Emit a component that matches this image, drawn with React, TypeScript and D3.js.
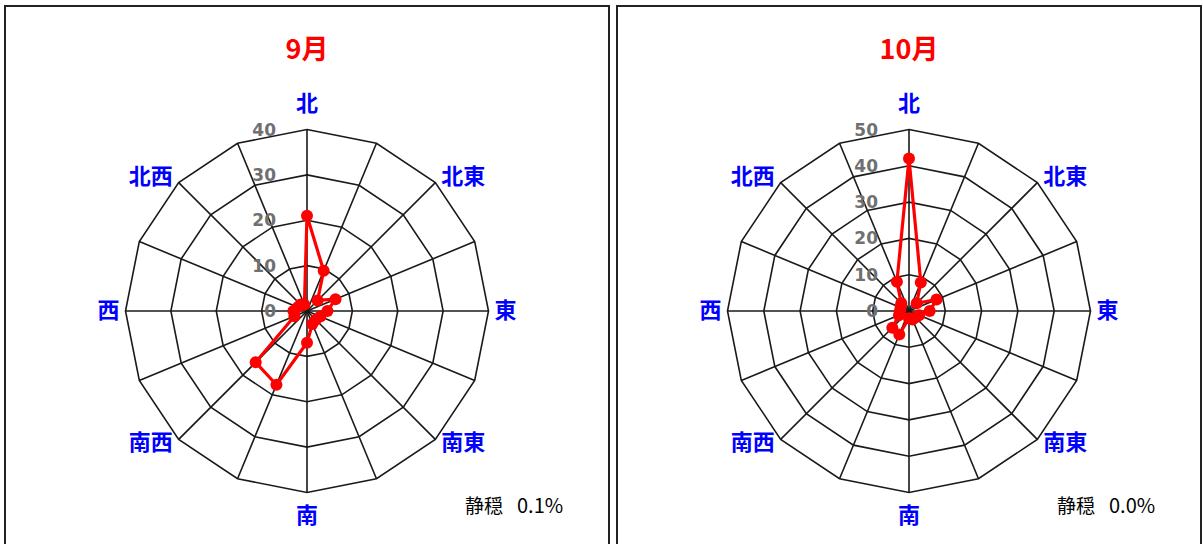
import React from "react";
import * as d3 from "d3";

const directions = ["北", "北北東", "北東", "東北東", "東", "東南東", "南東", "南南東", "南", "南南西", "南西", "西南西", "西", "西北西", "北西", "北北西"];
const shownLabels = ["北", "北東", "東", "南東", "南", "南西", "西", "北西"];

const sepValues = [21, 9.6, 3.3, 6.8, 4.5, 3.2, 2.7, 3.1, 7, 17.6, 16, 3, 3, 2.2, 2, 1.5];
const octValues = [42, 8.5, 3, 8.2, 5.7, 3, 2.5, 2.5, 2, 7, 6.5, 3, 2.5, 2.5, 3, 8.7];

const sepTicks = [0, 10, 20, 30, 40];
const octTicks = [0, 10, 20, 30, 40, 50];

const panels = [
  { title: "9月", values: sepValues, ticks: sepTicks, calm: "0.1%", x0: 5, x1: 609 },
  { title: "10月", values: octValues, ticks: octTicks, calm: "0.0%", x0: 617, x1: 1201 },
];

const W = 1203;
const H = 544;
const CY = 311;
const R = 181.5;
const CJK = "'Noto Sans CJK JP', 'Noto Sans', sans-serif";

function Panel({ p }: { p: typeof panels[number] }) {
  const cx = (p.x0 + p.x1) / 2;
  const max = p.ticks[p.ticks.length - 1];
  const r = d3.scaleLinear().domain([0, max]).range([0, R]);
  const angle = d3.scaleLinear().domain([0, directions.length]).range([0, 2 * Math.PI]);
  const ring = (v: number) =>
    d3.lineRadial<string>().angle((_, i) => angle(i)).radius(() => r(v)).curve(d3.curveLinearClosed)(directions) || "";
  const dataLine = d3
    .lineRadial<number>()
    .angle((_, i) => angle(i))
    .radius((d) => r(d))
    .curve(d3.curveLinearClosed)(p.values) || "";
  const pt = (i: number, v: number) => {
    const a = angle(i);
    return [Math.sin(a) * r(v), -Math.cos(a) * r(v)];
  };
  return (
    <g>
      <rect x={p.x0} y={6} width={p.x1 - p.x0} height={620} fill="#fff" stroke="#222" strokeWidth={2} />
      <text x={cx} y={47} textAnchor="middle" dominantBaseline="central" fill="#ff0000" fontSize={27} fontWeight="bold" fontFamily={CJK}>
        {p.title}
      </text>
      <g transform={`translate(${cx},${CY})`}>
        {p.ticks.filter((t) => t > 0).map((t) => (
          <path key={t} d={ring(t)} fill="none" stroke="#1a1a1a" strokeWidth={1.6} />
        ))}
        {directions.map((d, i) => {
          const [x, y] = pt(i, max);
          return <line key={d} x1={0} y1={0} x2={x} y2={y} stroke="#1a1a1a" strokeWidth={1.6} />;
        })}
        {p.ticks.map((t) => (
          <text key={t} x={-31} y={-r(t)} textAnchor="end" dominantBaseline="central" fill="#707070" fontSize={17} fontWeight="bold" fontFamily="'DejaVu Sans', sans-serif">
            {t}
          </text>
        ))}
        {directions.map((d, i) => {
          if (!shownLabels.includes(d)) return null;
          const a = angle(i);
          const s = Math.sin(a);
          const c = Math.cos(a);
          const [vx, vy] = pt(i, max);
          let x = vx, y = vy - 3, anchor = "middle";
          if (Math.abs(s) < 0.01) {
            y = vy + (c > 0 ? -29 : 20);
          } else {
            anchor = s > 0 ? "start" : "end";
            x = vx + (s > 0 ? 6 : -6);
            y = vy + (c > 0.01 ? -9 : c < -0.01 ? 1 : -3);
          }
          return (
            <text key={d} x={x} y={y} textAnchor={anchor} dominantBaseline="central" fill="#0000ff" fontSize={22} fontWeight="bold" fontFamily={CJK}>
              {d}
            </text>
          );
        })}
        <path d={dataLine} fill="none" stroke="#ff0000" strokeWidth={3.2} strokeLinejoin="round" />
        {p.values.map((v, i) => {
          const [x, y] = pt(i, v);
          return <circle key={i} cx={x} cy={y} r={6} fill="#ff0000" />;
        })}
      </g>
      <text x={p.x1 - 106} y={504} textAnchor="end" dominantBaseline="central" fill="#000" fontSize={19} fontFamily={CJK}>
        静穏
      </text>
      <text x={p.x1 - 92} y={504} textAnchor="start" dominantBaseline="central" fill="#000" fontSize={20} fontFamily={CJK}>
        {p.calm}
      </text>
    </g>
  );
}

export default function App() {
  return (
    <div style={{ position: "absolute", left: 0, top: 0 }}>
      <svg width={W} height={H} viewBox={`0 0 ${W} ${H}`} style={{ display: "block", background: "#fff" }}>
        {panels.map((p) => (
          <Panel key={p.title} p={p} />
        ))}
      </svg>
    </div>
  );
}
